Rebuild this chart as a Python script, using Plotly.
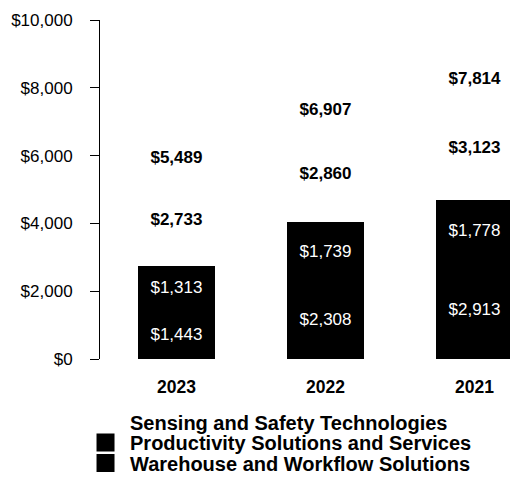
import plotly.graph_objects as go

years = ["2023", "2022", "2021"]
warehouse = [1443, 2308, 2913]
productivity = [1313, 1739, 1778]
sensing = [2733, 2860, 3123]
totals = [5489, 6907, 7814]
y_ticks = [0, 2000, 4000, 6000, 8000, 10000]
legend_names = ["Sensing and Safety Technologies",
                "Productivity Solutions and Services",
                "Warehouse and Workflow Solutions"]
legend_colors = ["white", "black", "black"]

FONT = "Arial, Liberation Sans, sans-serif"
fs = 17

fig = go.Figure()

fig.add_trace(go.Bar(
    x=years, y=warehouse, name=legend_names[2],
    marker=dict(color="black", line=dict(width=0)),
    text=[f"${v:,}" for v in warehouse], textposition="inside",
    insidetextanchor="middle", textangle=0, constraintext="none",
    textfont=dict(color="white", size=fs, family=FONT),
    showlegend=False, hoverinfo="skip",
))
fig.add_trace(go.Bar(
    x=years, y=productivity, name=legend_names[1],
    marker=dict(color="black", line=dict(width=0)),
    text=[f"${v:,}" for v in productivity], textposition="inside",
    insidetextanchor="middle", textangle=0, constraintext="none",
    textfont=dict(color="white", size=fs, family=FONT),
    showlegend=False, hoverinfo="skip",
))
fig.add_trace(go.Bar(
    x=years, y=sensing, name=legend_names[0],
    marker=dict(color="white", line=dict(width=0)),
    text=[f"<b>${v:,}</b>" for v in sensing], textposition="inside",
    insidetextanchor="middle", textangle=0, constraintext="none",
    textfont=dict(color="black", size=fs, family=FONT),
    showlegend=False, hoverinfo="skip",
))
fig.add_trace(go.Scatter(
    x=years, y=totals, mode="markers+text",
    marker=dict(size=7, opacity=0),
    text=[f"<b>${v:,}</b>" for v in totals], textposition="top center",
    textfont=dict(color="black", size=fs, family=FONT),
    showlegend=False, hoverinfo="skip",
))

# legend entries, one legend per item for precise placement
legend_ids = ["legend", "legend2", "legend3"]
for name, col, lid in zip(legend_names, legend_colors, legend_ids):
    fig.add_trace(go.Scatter(
        x=[None], y=[None], mode="markers", name=f"<b>{name}</b>",
        legend=lid,
        marker=dict(symbol="square", size=16, color=col,
                    line=dict(width=2, color=col)),
    ))

leg_font = dict(size=20, family=FONT, color="black")
leg_common = dict(x=-0.0463, xanchor="left", yanchor="middle",
                  bgcolor="rgba(0,0,0,0)", font=leg_font, itemwidth=39,
                  borderwidth=0)

fig.update_layout(
    width=510, height=477,
    margin=dict(l=100, r=0, t=20, b=118, autoexpand=False),
    plot_bgcolor="white", paper_bgcolor="white",
    barmode="stack", bargap=0.483,
    font=dict(family=FONT, size=fs, color="black"),
    showlegend=True,
    legend=dict(y=-0.1858, **leg_common),
    legend2=dict(y=-0.2463, **leg_common),
    legend3=dict(y=-0.3068, **leg_common),
    xaxis=dict(range=[-0.513, 2.238], showline=False, ticks="",
               showgrid=False, zeroline=False, automargin=False,
               tickfont=dict(size=17.5, family=FONT),
               tickvals=years, ticktext=[f"<b>{y}</b>" for y in years],
               ticklabelstandoff=15),
    yaxis=dict(range=[0, 10000], tickvals=y_ticks,
               ticktext=[f"${v:,}" for v in y_ticks],
               showline=True, linecolor="black", linewidth=1,
               ticks="outside", ticklen=9, tickcolor="black",
               showgrid=False, zeroline=False, automargin=False,
               tickfont=dict(size=fs, family=FONT),
               ticklabelstandoff=14),
)

fig.write_html(
    "out.html",
    config={"displayModeBar": False},
    post_script="document.body.style.margin='0';"
                "document.documentElement.style.overflow='hidden';",
)
